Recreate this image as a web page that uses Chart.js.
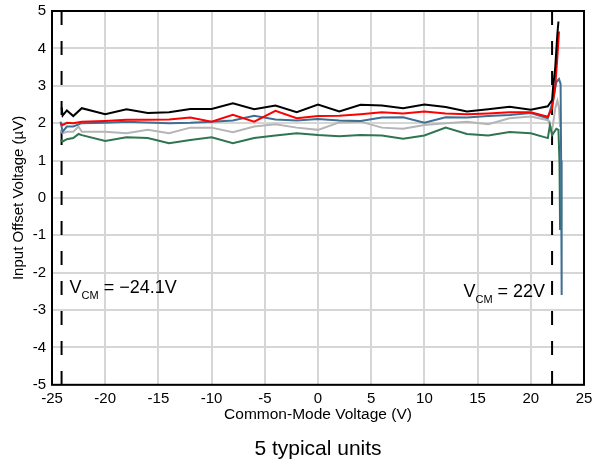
<!DOCTYPE html>
<html>
<head>
<meta charset="utf-8">
<script src="https://cdn.jsdelivr.net/npm/chart.js@4.4.1/dist/chart.umd.min.js"></script>
<style>
  body { margin: 0; background: #fff; }
  canvas { display: block; }
</style>
</head>
<body>
<canvas id="offsetChart" width="592" height="464"></canvas>
<script>
// Common-mode sweep points (V); a unit has null where it has no reading
const voltage = [
  -24.2, -24.1, -24, -23.6, -23, -22.5, -22.2,
  -20, -18, -16, -14, -12, -10, -8, -6, -4, -2,
  0, 2, 4, 6, 8, 10, 12, 14, 16, 18, 20,
  21.6, 21.8, 22, 22.1, 22.3, 22.4, 22.5, 22.6, 22.65, 22.7, 22.75, 22.8, 22.85, 22.9
];

// Input offset voltage (µV) of the five units
const unit1 = [
  null, 2.42, 2.2, 2.34, 2.19, null, 2.4,
  2.24, 2.37, 2.27, 2.29, 2.38, 2.38, 2.53, 2.37, 2.47, 2.29,
  2.5, 2.31, 2.49, 2.47, 2.4, 2.5, 2.43, 2.31, 2.37, 2.44, 2.36,
  2.45, null, 2.62, 2.98, 3.5, null, 4.4, 4.72, null, null, null, null, null, null
];
const unit2 = [
  2.0, null, 1.95, 2.01, 2.0, null, 2.04,
  2.06, 2.09, 2.09, 2.1, 2.15, 2.04, 2.22, 2.04, 2.33, 2.13,
  2.19, 2.2, 2.24, 2.29, 2.26, 2.31, 2.26, 2.24, 2.26, 2.29, 2.29,
  2.17, null, 2.4, null, 3.0, null, 3.78, null, 4.45, null, null, null, null, null
];
const unit3 = [
  2.04, null, 1.77, 1.91, 1.91, null, 2.0,
  2.01, 2.04, 2.02, 2.0, 2.01, 2.04, 2.07, 2.2, 2.1, 2.07,
  2.11, 2.07, 2.06, 2.15, 2.16, 2.01, 2.16, 2.15, 2.19, 2.22, 2.27,
  2.13, null, null, 2.62, null, 3.1, null, null, 3.18, null, null, 3.05, 1.0, -2.6
];
const unit4 = [
  1.55, null, 1.51, 1.57, 1.6, 1.71, 1.68,
  1.52, 1.62, 1.6, 1.46, 1.55, 1.62, 1.46, 1.6, 1.67, 1.73,
  1.68, 1.65, 1.68, 1.67, 1.58, 1.67, 1.88, 1.71, 1.67, 1.76, 1.73,
  1.6, 1.95, 1.68, null, null, 1.85, null, 1.82, null, 0.9, -0.86, null, null, null
];
const unit5 = [
  1.82, null, 1.73, 1.77, 1.77, 1.91, 1.77,
  1.77, 1.73, 1.82, 1.73, 1.88, 1.88, 1.76, 1.91, 1.97, 1.88,
  1.82, 2.02, 2.04, 1.88, 1.85, 1.95, 2.0, 2.04, 1.97, 2.13, 2.18,
  2.08, null, 1.8, null, 2.4, null, 2.6, null, 2.4, null, 1.9, null, null, null
];

// Common-mode limits marked with dashed lines (V)
const vcmLimits = [-24.1, 22];

const xTicks = { min: -25, max: 25, step: 5 };
const yTicks = { min: -5, max: 5, step: 1 };

const units = [
  { values: unit1, color: '#000000' },
  { values: unit2, color: '#ff0000' },
  { values: unit3, color: '#3e6f93' },
  { values: unit4, color: '#2f7650' },
  { values: unit5, color: '#b5b5b5' }
];

const toPoints = values => voltage.map((v, i) => ({ x: v, y: values[i] }));

const unitSets = units.map(u => ({
  data: toPoints(u.values),
  borderColor: u.color,
  borderWidth: 2,
  pointRadius: 0,
  tension: 0,
  spanGaps: true
}));

const limitSets = vcmLimits.map(v => ({
  data: [{ x: v, y: yTicks.max }, { x: v, y: yTicks.min }],
  borderColor: '#000000',
  borderWidth: 2,
  borderDash: [14, 16],
  pointRadius: 0
}));

// Box around the plot plus the V_CM captions beside each limit line
const frameAndLabels = {
  id: 'frameAndLabels',
  afterDraw(chart) {
    const { ctx, chartArea: a, scales: { x, y } } = chart;
    ctx.save();
    ctx.strokeStyle = '#000';
    ctx.lineWidth = 2;
    ctx.strokeRect(a.left, a.top, a.right - a.left, a.bottom - a.top);

    const big = '18px "Liberation Sans", Arial, sans-serif';
    const small = '11px "Liberation Sans", Arial, sans-serif';
    ctx.fillStyle = '#000';
    ctx.textBaseline = 'alphabetic';
    ctx.textAlign = 'left';

    vcmLimits.forEach((v, i) => {
      const rest = ' = ' + (v < 0 ? '\u2212' : '') + Math.abs(v) + 'V';
      ctx.font = big;
      const wV = ctx.measureText('V').width;
      const wRest = ctx.measureText(rest).width;
      ctx.font = small;
      const wSub = ctx.measureText('CM').width;
      const total = wV + wSub + wRest;
      const lx = x.getPixelForValue(v);
      const left = i === 0 ? lx + 8 : lx - 7 - total;
      const base = y.getPixelForValue(i === 0 ? -2.54 : -2.65);
      ctx.font = big;
      ctx.fillText('V', left, base);
      ctx.font = small;
      ctx.fillText('CM', left + wV, base + 6);
      ctx.font = big;
      ctx.fillText(rest, left + wV + wSub, base);
    });
    ctx.restore();
  }
};

Chart.defaults.font.family = '"Liberation Sans", Arial, sans-serif';
Chart.defaults.color = '#000';

new Chart(document.getElementById('offsetChart'), {
  type: 'line',
  data: { datasets: [...unitSets, ...limitSets] },
  options: {
    responsive: false,
    animation: false,
    devicePixelRatio: 1,
    layout: { padding: { top: 11, right: 8, left: 0, bottom: 0 } },
    plugins: {
      legend: { display: false },
      tooltip: { enabled: false },
      title: {
        display: true,
        position: 'bottom',
        fullSize: false,
        text: '5 typical units',
        font: { size: 21, weight: 'normal' },
        color: '#000',
        padding: { top: 0, bottom: 2 }
      }
    },
    scales: {
      x: {
        type: 'linear',
        min: xTicks.min,
        max: xTicks.max,
        afterFit: s => { s.height = 52; s.paddingLeft = 0; s.paddingRight = 0; },
        ticks: { stepSize: xTicks.step, padding: 5, font: { size: 15 }, color: '#000' },
        grid: { color: '#d6d6d6', lineWidth: 2, drawTicks: false },
        border: { display: false },
        title: {
          display: true,
          text: 'Common-Mode Voltage (V)',
          font: { size: 15.5 },
          color: '#000',
          padding: { top: 0, bottom: 13 }
        }
      },
      y: {
        type: 'linear',
        min: yTicks.min,
        max: yTicks.max,
        afterFit: s => { s.width = 52; s.paddingTop = 0; s.paddingBottom = 0; },
        ticks: { stepSize: yTicks.step, padding: 6, font: { size: 15 }, color: '#000' },
        grid: { color: '#d6d6d6', lineWidth: 2, drawTicks: false },
        border: { display: false },
        title: {
          display: true,
          text: 'Input Offset Voltage (\u00b5V)',
          font: { size: 15 },
          color: '#000',
          padding: { top: 10, bottom: 0 }
        }
      }
    }
  },
  plugins: [frameAndLabels]
});
</script>
</body>
</html>
